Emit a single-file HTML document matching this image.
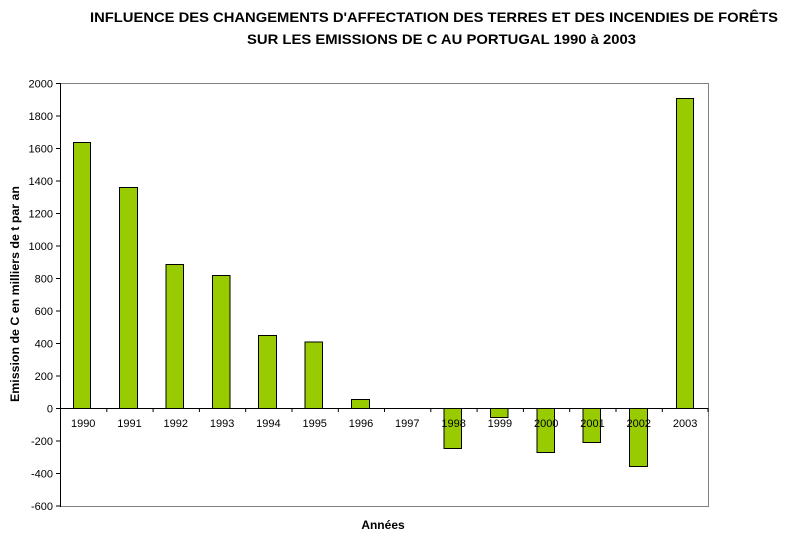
<!DOCTYPE html>
<html><head><meta charset="utf-8"><style>
html,body{margin:0;padding:0;background:#fff;}
svg{display:block;}
</style></head><body>
<svg width="811" height="540" viewBox="0 0 811 540" xmlns="http://www.w3.org/2000/svg">
<rect width="811" height="540" fill="#fff"/>
<g font-family="'Liberation Sans', Arial, sans-serif" font-weight="bold" font-size="14" fill="#000">
<text x="90" y="22" textLength="688" lengthAdjust="spacingAndGlyphs">INFLUENCE DES CHANGEMENTS D'AFFECTATION DES TERRES ET DES INCENDIES DE FORÊTS</text>
<text x="247" y="44" textLength="389" lengthAdjust="spacingAndGlyphs">SUR LES EMISSIONS DE C AU PORTUGAL 1990 à 2003</text>
</g>
<!-- plot frame -->
<rect x="60.5" y="83.5" width="648" height="423" fill="none" stroke="#808080" stroke-width="1"/>
<line x1="60.5" y1="83" x2="60.5" y2="507" stroke="#000" stroke-width="1"/>
<!-- y ticks -->
<g stroke="#000" stroke-width="1">
<line x1="56" y1="83.5" x2="60" y2="83.5"/>
<line x1="56" y1="116" x2="60" y2="116"/>
<line x1="56" y1="148.5" x2="60" y2="148.5"/>
<line x1="56" y1="181" x2="60" y2="181"/>
<line x1="56" y1="213.5" x2="60" y2="213.5"/>
<line x1="56" y1="246" x2="60" y2="246"/>
<line x1="56" y1="278.5" x2="60" y2="278.5"/>
<line x1="56" y1="311" x2="60" y2="311"/>
<line x1="56" y1="343.5" x2="60" y2="343.5"/>
<line x1="56" y1="376" x2="60" y2="376"/>
<line x1="56" y1="408.5" x2="60" y2="408.5"/>
<line x1="56" y1="441" x2="60" y2="441"/>
<line x1="56" y1="473.5" x2="60" y2="473.5"/>
<line x1="56" y1="506" x2="60" y2="506"/>
</g>
<g font-family="'Liberation Sans', Arial, sans-serif" font-size="11" fill="#000" text-anchor="end">
<text x="53" y="87.5">2000</text>
<text x="53" y="120">1800</text>
<text x="53" y="152.5">1600</text>
<text x="53" y="185">1400</text>
<text x="53" y="217.5">1200</text>
<text x="53" y="250">1000</text>
<text x="53" y="282.5">800</text>
<text x="53" y="315">600</text>
<text x="53" y="347.5">400</text>
<text x="53" y="380">200</text>
<text x="53" y="412.5">0</text>
<text x="53" y="445">-200</text>
<text x="53" y="477.5">-400</text>
<text x="53" y="510">-600</text>
</g>
<!-- bars -->
<g fill="#99CC00" stroke="#000" stroke-width="1">
<rect x="73.5" y="142.5" width="17" height="266"/>
<rect x="119.5" y="187.5" width="18" height="221"/>
<rect x="166" y="264.5" width="17.5" height="144"/>
<rect x="212.5" y="275.5" width="17.5" height="133"/>
<rect x="258.5" y="335.5" width="18" height="73"/>
<rect x="305" y="342" width="17.5" height="66.5"/>
<rect x="351.5" y="399.5" width="18" height="9"/>
<rect x="444" y="408.5" width="17.5" height="40"/>
<rect x="490.5" y="408.5" width="17.5" height="9"/>
<rect x="537" y="408.5" width="17.5" height="44"/>
<rect x="583" y="408.5" width="17.5" height="34"/>
<rect x="629.5" y="408.5" width="18" height="58"/>
<rect x="676.5" y="98.5" width="17" height="310"/>
</g>
<!-- zero line -->
<line x1="60" y1="408.5" x2="708" y2="408.5" stroke="#000" stroke-width="1"/>
<g stroke="#000" stroke-width="1">
<line x1="106.8" y1="408" x2="106.8" y2="412"/>
<line x1="153.1" y1="408" x2="153.1" y2="412"/>
<line x1="199.4" y1="408" x2="199.4" y2="412"/>
<line x1="245.7" y1="408" x2="245.7" y2="412"/>
<line x1="292" y1="408" x2="292" y2="412"/>
<line x1="338.3" y1="408" x2="338.3" y2="412"/>
<line x1="384.5" y1="408" x2="384.5" y2="412"/>
<line x1="430.8" y1="408" x2="430.8" y2="412"/>
<line x1="477.1" y1="408" x2="477.1" y2="412"/>
<line x1="523.4" y1="408" x2="523.4" y2="412"/>
<line x1="569.7" y1="408" x2="569.7" y2="412"/>
<line x1="616" y1="408" x2="616" y2="412"/>
<line x1="662.3" y1="408" x2="662.3" y2="412"/>
<line x1="708" y1="408" x2="708" y2="412"/>
</g>
<g font-family="'Liberation Sans', Arial, sans-serif" font-size="11" fill="#000" text-anchor="middle">
<text x="83.2" y="427">1990</text>
<text x="129.5" y="427">1991</text>
<text x="175.8" y="427">1992</text>
<text x="222.1" y="427">1993</text>
<text x="268.4" y="427">1994</text>
<text x="314.7" y="427">1995</text>
<text x="361" y="427">1996</text>
<text x="407.3" y="427">1997</text>
<text x="453.6" y="427">1998</text>
<text x="499.9" y="427">1999</text>
<text x="546.2" y="427">2000</text>
<text x="592.5" y="427">2001</text>
<text x="638.8" y="427">2002</text>
<text x="685.1" y="427">2003</text>
</g>
<text x="383" y="529" font-family="'Liberation Sans', Arial, sans-serif" font-weight="bold" font-size="12" text-anchor="middle">Années</text>
<text transform="translate(19,294) rotate(-90)" font-family="'Liberation Sans', Arial, sans-serif" font-weight="bold" font-size="12" text-anchor="middle" textLength="216" lengthAdjust="spacingAndGlyphs">Emission de C en milliers de t par an</text>
</svg>
</body></html>
